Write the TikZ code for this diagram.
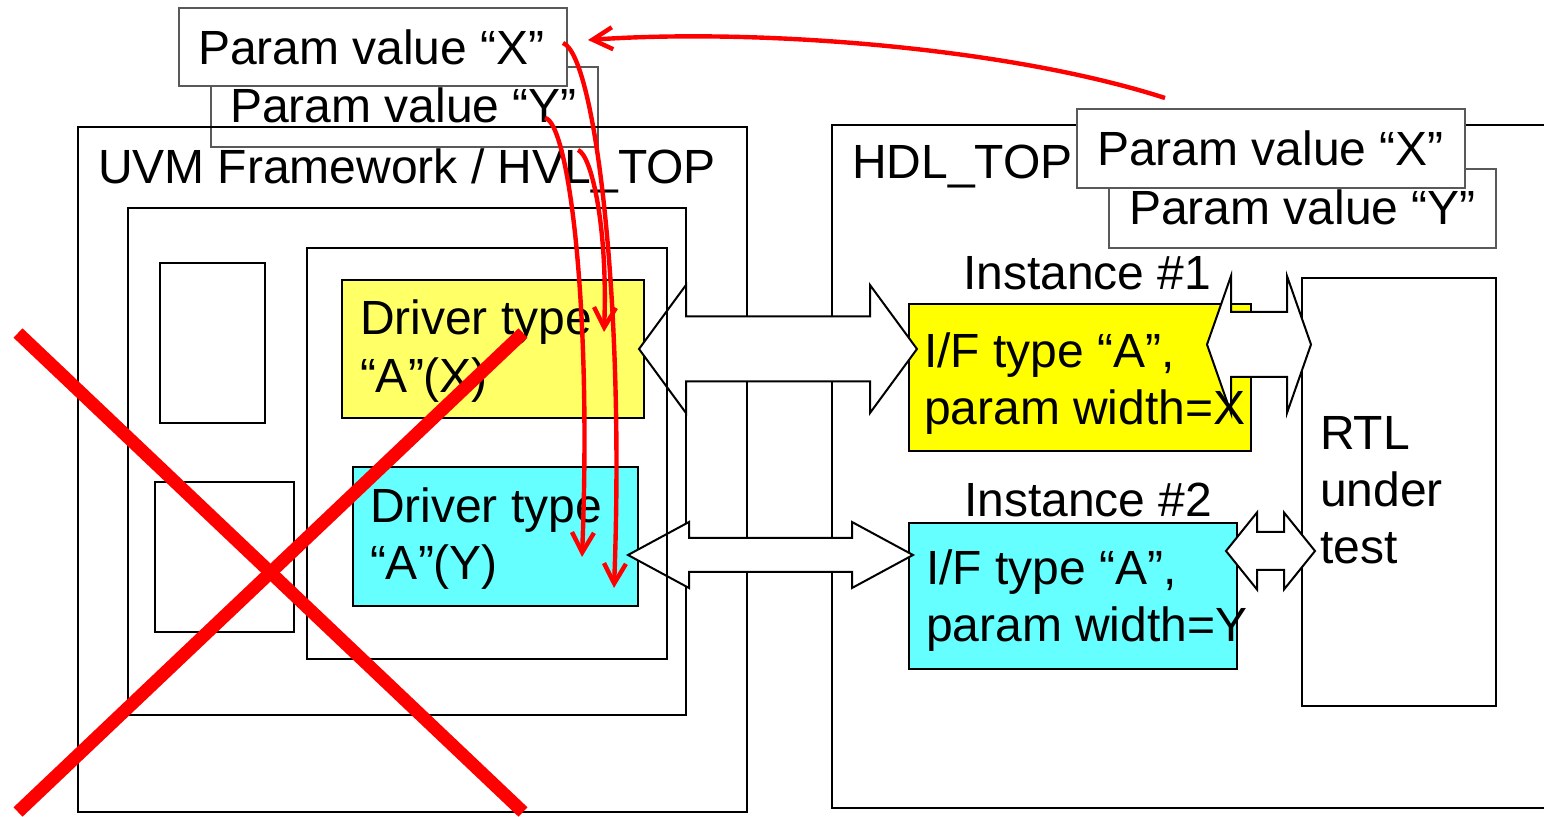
\documentclass[tikz,border=0pt]{standalone}
\usepackage{fontspec}
\setmainfont{Liberation Sans}
\usetikzlibrary{arrows.meta}
\definecolor{drvyellow}{HTML}{FFFF66}
\definecolor{ifyellow}{HTML}{FFFF00}
\definecolor{aqua}{HTML}{66FFFF}

% rectangle node from its top-left and bottom-right corners
\newcommand{\boxat}[6]{%
  \node[#6, anchor=north west, minimum width={(#4-#2)*0.5pt},
        minimum height={(#5-#3)*0.5pt}] (#1) at (#2,#3) {};}

% white block arrow with a head at each end
% #1 left tip x, #2 right tip x, #3 centre y, #4 half shaft, #5 half head,
% #6 left head length, #7 right head length
\newcommand{\dblarrow}[7]{%
  \draw[blockarrow] (#1,#3) -- ({#1+#6},{#3-#5}) -- ({#1+#6},{#3-#4})
    -- ({#2-#7},{#3-#4}) -- ({#2-#7},{#3-#5}) -- (#2,#3)
    -- ({#2-#7},{#3+#5}) -- ({#2-#7},{#3+#4}) -- ({#1+#6},{#3+#4})
    -- ({#1+#6},{#3+#5}) -- cycle;}

\tikzset{
  frame/.style={draw=black, line width=1pt, inner sep=0pt, outer sep=0pt},
  pbox/.style={draw=black!65, line width=0.75pt, fill=white, inner sep=0pt, outer sep=0pt},
  blockarrow/.style={draw=black, line width=1pt, fill=white, line join=miter},
  txt/.style={anchor=base west, inner sep=0pt, outer sep=0pt,
              font=\fontsize{24}{28.8}\selectfont},
  redflow/.style={draw=red, line width=2.2pt,
                  -{Straight Barb[length=10pt,width=11pt]}},
  crossout/.style={draw=red, line width=6.5pt},
}

\begin{document}
\begin{tikzpicture}[x=0.5pt,y=-0.5pt]
\useasboundingbox (0,0) rectangle (1544,817);

% parameter boxes above the testbench
\boxat{pYl}{211}{67}{598}{147}{pbox}
\boxat{pXl}{179}{8}{567}{86}{pbox}

% HVL side
\boxat{hvl}{78}{127}{747}{812}{frame}
\boxat{env}{128}{208}{686}{715}{frame}
\boxat{compA}{160}{263}{265}{423}{frame}
\boxat{compB}{155}{482}{294}{632}{frame}

% HDL side (open to the right)
\coordinate (hdlTR) at (1544,125);
\coordinate (hdlTL) at (832,125);
\coordinate (hdlBL) at (832,808);
\coordinate (hdlBR) at (1544,808);
\draw[line width=1pt] (hdlTR) -- (hdlTL) -- (hdlBL) -- (hdlBR);

\boxat{pYr}{1109}{169}{1496}{248}{pbox}
\boxat{pXr}{1077}{109}{1465}{188}{pbox}

% drivers, interfaces and RTL
\boxat{drvX}{342}{280}{644}{418}{frame, fill=drvyellow}
\boxat{drvY}{353}{467}{638}{606}{frame, fill=aqua}
\boxat{ifX}{909}{304}{1251}{451}{frame, fill=ifyellow}
\boxat{ifY}{909}{523}{1237}{669}{frame, fill=aqua}
\boxat{rtl}{1302}{278}{1496}{706}{frame}

% bidirectional links
\dblarrow{639}{917}{349}{32.5}{64}{47}{47}
\dblarrow{628}{913}{555}{17}{33}{61}{61}
\dblarrow{1207}{1311}{344.5}{32.5}{68.5}{24}{24}
\dblarrow{1226}{1315}{551}{19}{38.5}{31}{31}

\boxat{agent}{307}{248}{667}{659}{frame}

% labels
\node[txt] (tpXl) at (198,65) {Param value “X”};
\node[txt] (tpYl) at (230,123) {Param value “Y”};
\node[txt] (tpXr) at (1097,166) {Param value “X”};
\node[txt] (tpYr) at (1129,225) {Param value “Y”};
\node[txt] (thvl) at (98,184) {UVM Framework / HVL\_TOP};
\node[txt] (thdl) at (852,179) {HDL\_TOP};
\node[txt] (tinst1) at (963,290) {Instance \#1};
\node[txt] (tinst2) at (964,517) {Instance \#2};
\node[txt] (tdrvX1) at (360,335) {Driver type};
\node[txt] (tdrvX2) at (360,393) {“A”(X)};
\node[txt] (tdrvY1) at (370,523) {Driver type};
\node[txt] (tdrvY2) at (370,580) {“A”(Y)};
\node[txt] (tifX1) at (924,368) {I/F type “A”,};
\node[txt] (tifX2) at (924,425) {param width=X};
\node[txt] (tifY1) at (926,585) {I/F type “A”,};
\node[txt] (tifY2) at (926,642) {param width=Y};
\node[txt] (trtl1) at (1320,450) {RTL};
\node[txt] (trtl2) at (1320,507) {under};
\node[txt] (trtl3) at (1320,564) {test};

% crossed-out testbench
\draw[crossout] (18,333) -- (523,812);
\draw[crossout] (523,333) -- (18,812);

% parameter flow
\coordinate (fromHdl) at (1165,98);
\coordinate (intoX) at (588,40);
\coordinate (xOut) at (563,43);
\coordinate (yOut) at (545,118);
\coordinate (xOut2) at (578,150);
\coordinate (toDrvY2) at (614,588);
\coordinate (toDrvY1) at (582,557);
\coordinate (toDrvX) at (604,332);
\draw[redflow] (fromHdl) .. controls (1010,48) and (760,28) .. (intoX);
\draw[redflow] (xOut) .. controls (595,55) and (625,300) .. (toDrvY2);
\draw[redflow] (yOut) .. controls (568,122) and (592,300) .. (toDrvY1);
\draw[redflow] (xOut2) .. controls (592,155) and (608,230) .. (toDrvX);
\end{tikzpicture}
\end{document}
